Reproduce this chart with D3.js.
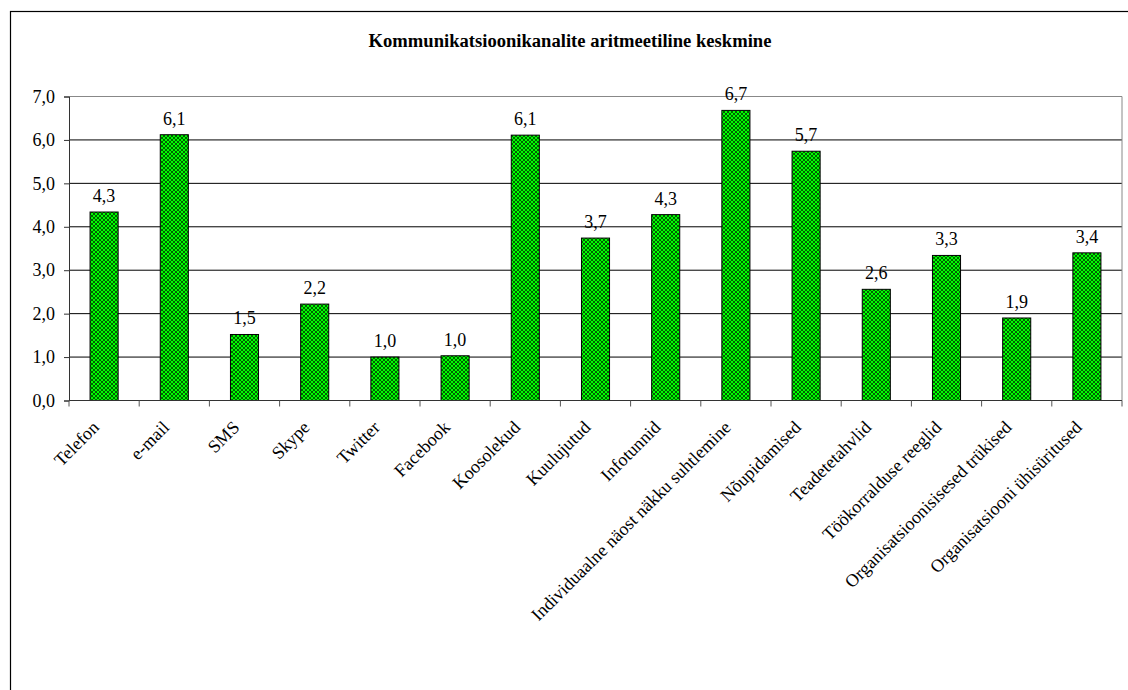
<!DOCTYPE html>
<html>
<meta charset="utf-8">
<title>Kommunikatsioonikanalite aritmeetiline keskmine</title>
<head>
  <script src="https://cdnjs.cloudflare.com/ajax/libs/d3/7.8.5/d3.min.js"></script>
  <style>
    body { margin: 0; background: #fff; }
    text { font-family: "Liberation Serif", "Times New Roman", serif; fill: #000; }
  </style>
</head>
<body>
<script>
  var categories = ["Telefon", "e-mail", "SMS", "Skype", "Twitter", "Facebook", "Koosolekud",
    "Kuulujutud", "Infotunnid", "Individuaalne näost näkku suhtlemine", "Nõupidamised",
    "Teadetetahvlid", "Töökorralduse reeglid", "Organisatsioonisisesed trükised",
    "Organisatsiooni ühisüritused"];
  var values = [4.34, 6.12, 1.52, 2.22, 1.0, 1.03, 6.11, 3.74, 4.28, 6.68, 5.74, 2.56, 3.34, 1.9, 3.4];
  var yTicks = [0, 1, 2, 3, 4, 5, 6, 7];
  var title = "Kommunikatsioonikanalite aritmeetiline keskmine";

  var W = 1128, H = 690;
  var plot = {left: 69, right: 1122, top: 96.5, bottom: 400.5};
  var fmt = function(v) { return d3.format(".1f")(v).replace(".", ","); };

  var svg = d3.select("body").append("svg")
      .attr("width", W)
      .attr("height", H);

  // crosshatch fill like the old excel pattern
  var pat = svg.append("defs").append("pattern")
      .attr("id", "hatch")
      .attr("patternUnits", "userSpaceOnUse")
      .attr("width", 4)
      .attr("height", 4);
  pat.append("rect").attr("width", 4).attr("height", 4).attr("fill", "#00ff00");
  pat.append("path")
      .attr("d", "M0,0L4,4M4,0L0,4")
      .attr("stroke", "#005000")
      .attr("stroke-width", 0.9);

  // outer frame (cut off at right and bottom)
  svg.append("rect")
      .attr("x", 10.5).attr("y", 11.5)
      .attr("width", W).attr("height", H)
      .attr("fill", "none")
      .attr("stroke", "#000")
      .attr("stroke-width", 1.2);

  svg.append("text")
      .attr("x", 570).attr("y", 47)
      .attr("text-anchor", "middle")
      .style("font-size", "18.6px")
      .style("font-weight", "bold")
      .text(title);

  var x = d3.scaleBand()
      .domain(categories)
      .range([plot.left, plot.right])
      .paddingInner(0.6)
      .paddingOuter(0.3);

  var y = d3.scaleLinear()
      .domain([0, 7])
      .range([plot.bottom, plot.top]);

  // gridlines
  svg.append("g").selectAll("line")
      .data(yTicks.filter(function(d) { return d > 0; }))
      .enter().append("line")
      .attr("x1", plot.left).attr("x2", plot.right)
      .attr("y1", function(d) { return y(d); })
      .attr("y2", function(d) { return y(d); })
      .attr("stroke", function(d) { return d === 7 ? "#888" : "#000"; })
      .attr("stroke-width", 1);

  svg.append("line")
      .attr("x1", plot.right).attr("x2", plot.right)
      .attr("y1", plot.top).attr("y2", plot.bottom)
      .attr("stroke", "#888");

  // bars
  svg.append("g").selectAll("rect")
      .data(values)
      .enter().append("rect")
      .attr("x", function(d, i) { return x(categories[i]); })
      .attr("y", function(d) { return y(d); })
      .attr("width", x.bandwidth())
      .attr("height", function(d) { return y(0) - y(d); })
      .attr("fill", "url(#hatch)")
      .attr("stroke", "#000")
      .attr("stroke-width", 1);

  svg.append("g").selectAll("text")
      .data(values)
      .enter().append("text")
      .attr("x", function(d, i) { return x(categories[i]) + x.bandwidth() / 2; })
      .attr("y", function(d) { return y(d) - 10; })
      .attr("text-anchor", "middle")
      .style("font-size", "18px")
      .text(function(d) { return fmt(d); });

  // y axis
  var yAxis = svg.append("g")
      .attr("transform", "translate(" + plot.left + ",0)")
      .call(d3.axisLeft(y).tickValues(yTicks).tickSize(5).tickPadding(9).tickFormat(fmt));
  yAxis.select(".domain").attr("stroke", "#333");
  yAxis.selectAll(".tick line").attr("stroke", "#333");
  yAxis.selectAll("text")
      .attr("font-family", null)
      .attr("font-size", null)
      .style("font-size", "18px");

  // x axis, ticks between categories
  var step = x.step();
  var xg = svg.append("g");
  xg.append("line")
      .attr("x1", plot.left).attr("x2", plot.right)
      .attr("y1", plot.bottom).attr("y2", plot.bottom)
      .attr("stroke", "#333");
  xg.selectAll("line.tk")
      .data(d3.range(categories.length + 1))
      .enter().append("line")
      .attr("class", "tk")
      .attr("x1", function(i) { return plot.left + i * step; })
      .attr("x2", function(i) { return plot.left + i * step; })
      .attr("y1", plot.bottom).attr("y2", plot.bottom + 6)
      .attr("stroke", "#555");
  xg.selectAll("text")
      .data(categories)
      .enter().append("text")
      .attr("text-anchor", "end")
      .attr("transform", function(d) {
        var cx = x(d) + x.bandwidth() / 2 - 4;
        return "translate(" + cx + "," + (plot.bottom + 28) + ") rotate(-45)";
      })
      .style("font-size", "18px")
      .text(function(d) { return d; });
</script>
</body>
</html>
